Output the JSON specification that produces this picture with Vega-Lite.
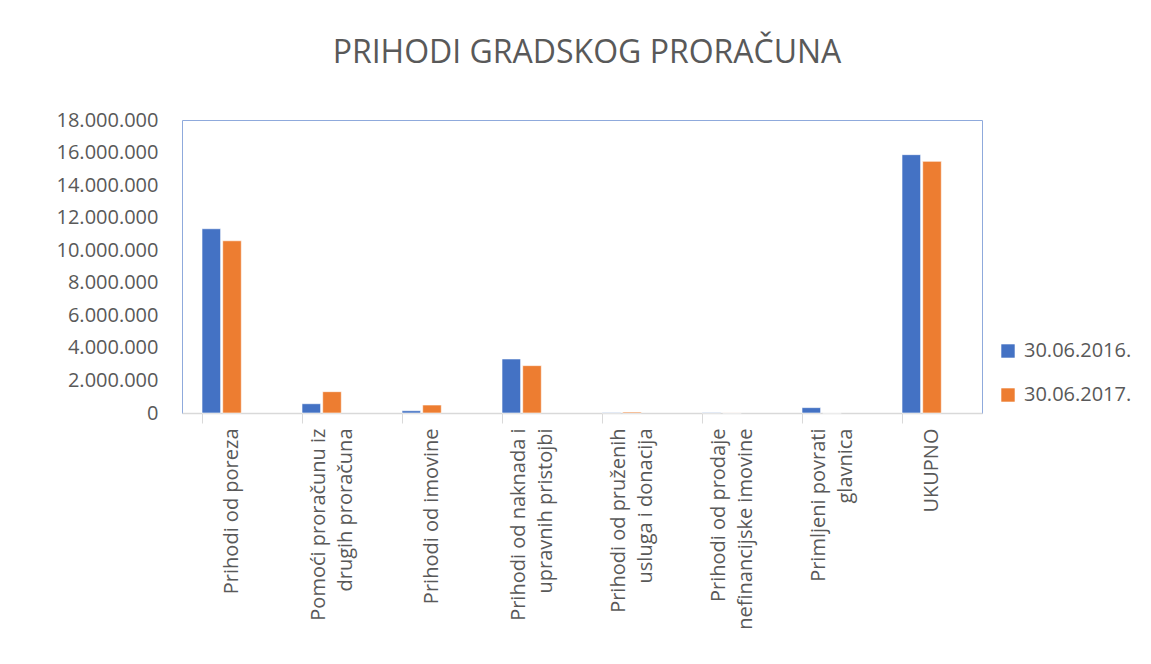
{
  "$schema": "https://vega.github.io/schema/vega-lite/v6.json",
  "width": 800,
  "height": 293,
  "autosize": {"type": "none"},
  "padding": {"left": 182, "top": 120, "right": 169, "bottom": 251},
  "background": "white",
  "config": {
    "font": "Open Sans",
    "view": {"stroke": "#8faadc", "strokeWidth": 1},
    "locale": {"number": {"decimal": ",", "thousands": ".", "grouping": [3], "currency": ["", ""]}}
  },
  "title": {
    "text": "PRIHODI GRADSKOG PRORAČUNA",
    "fontSize": 32,
    "fontWeight": "normal",
    "color": "#595959",
    "anchor": "middle",
    "offset": 40,
    "dx": 5
  },
  "data": {
    "values": [
      {"kategorija": "Prihodi od poreza", "datum": "30.06.2016.", "iznos": 11320000},
      {"kategorija": "Prihodi od poreza", "datum": "30.06.2017.", "iznos": 10580000},
      {"kategorija": "Pomoći proračunu iz drugih proračuna", "datum": "30.06.2016.", "iznos": 570000},
      {"kategorija": "Pomoći proračunu iz drugih proračuna", "datum": "30.06.2017.", "iznos": 1310000},
      {"kategorija": "Prihodi od imovine", "datum": "30.06.2016.", "iznos": 140000},
      {"kategorija": "Prihodi od imovine", "datum": "30.06.2017.", "iznos": 490000},
      {"kategorija": "Prihodi od naknada i upravnih pristojbi", "datum": "30.06.2016.", "iznos": 3320000},
      {"kategorija": "Prihodi od naknada i upravnih pristojbi", "datum": "30.06.2017.", "iznos": 2910000},
      {"kategorija": "Prihodi od pruženih usluga i donacija", "datum": "30.06.2016.", "iznos": 30000},
      {"kategorija": "Prihodi od pruženih usluga i donacija", "datum": "30.06.2017.", "iznos": 60000},
      {"kategorija": "Prihodi od prodaje nefinancijske imovine", "datum": "30.06.2016.", "iznos": 30000},
      {"kategorija": "Prihodi od prodaje nefinancijske imovine", "datum": "30.06.2017.", "iznos": 5000},
      {"kategorija": "Primljeni povrati glavnica", "datum": "30.06.2016.", "iznos": 330000},
      {"kategorija": "Primljeni povrati glavnica", "datum": "30.06.2017.", "iznos": 0},
      {"kategorija": "UKUPNO", "datum": "30.06.2016.", "iznos": 15870000},
      {"kategorija": "UKUPNO", "datum": "30.06.2017.", "iznos": 15460000}
    ]
  },
  "mark": {"type": "bar", "stroke": "white", "strokeWidth": 1, "strokeOpacity": 0.6},
  "encoding": {
    "x": {
      "field": "kategorija",
      "type": "nominal",
      "sort": null,
      "scale": {"paddingInner": 0.4, "paddingOuter": 0.2},
      "axis": {
        "title": null,
        "labelAngle": -90,
        "labelAlign": "right",
        "labelBaseline": "middle",
        "labelFontSize": 20,
        "labelColor": "#595959",
        "labelPadding": 5,
        "labelLimit": 300,
        "labelLineHeight": 27,
        "labelOffset": {"condition": {"test": "datum.value != 'Prihodi od poreza' && datum.value != 'Prihodi od imovine' && datum.value != 'UKUPNO'", "value": -13}, "value": 0},
        "bandPosition": 0,
        "tickColor": "#d9d9d9",
        "tickSize": 10,
        "domainColor": "#d9d9d9",
        "domainWidth": 1.5,
        "labelExpr": "datum.value == 'Pomoći proračunu iz drugih proračuna' ? ['Pomoći proračunu iz', 'drugih proračuna'] : datum.value == 'Prihodi od naknada i upravnih pristojbi' ? ['Prihodi od naknada i', 'upravnih pristojbi'] : datum.value == 'Prihodi od pruženih usluga i donacija' ? ['Prihodi od pruženih', 'usluga i donacija'] : datum.value == 'Prihodi od prodaje nefinancijske imovine' ? ['Prihodi od prodaje', 'nefinancijske imovine'] : datum.value == 'Primljeni povrati glavnica' ? ['Primljeni povrati', 'glavnica'] : datum.value"
      }
    },
    "xOffset": {
      "field": "datum",
      "type": "nominal",
      "scale": {"domain": ["30.06.2016.", "30.06.2017.", "-"], "paddingInner": 0.1}
    },
    "y": {
      "field": "iznos",
      "type": "quantitative",
      "scale": {"domain": [0, 18000000], "nice": false},
      "axis": {
        "title": null,
        "format": ",d",
        "values": [0, 2000000, 4000000, 6000000, 8000000, 10000000, 12000000, 14000000, 16000000, 18000000],
        "grid": false,
        "ticks": false,
        "domain": false,
        "labelFontSize": 20,
        "labelColor": "#595959",
        "labelPadding": 24
      }
    },
    "color": {
      "field": "datum",
      "type": "nominal",
      "scale": {"domain": ["30.06.2016.", "30.06.2017."], "range": ["#4472c4", "#ed7d31"]},
      "legend": {
        "title": null,
        "orient": "none",
        "legendX": 816,
        "legendY": 221,
        "symbolType": "square",
        "symbolSize": 180,
        "symbolStrokeWidth": 0,
        "labelFontSize": 20,
        "labelColor": "#595959",
        "rowPadding": 24,
        "labelOffset": 6
      }
    }
  }
}
